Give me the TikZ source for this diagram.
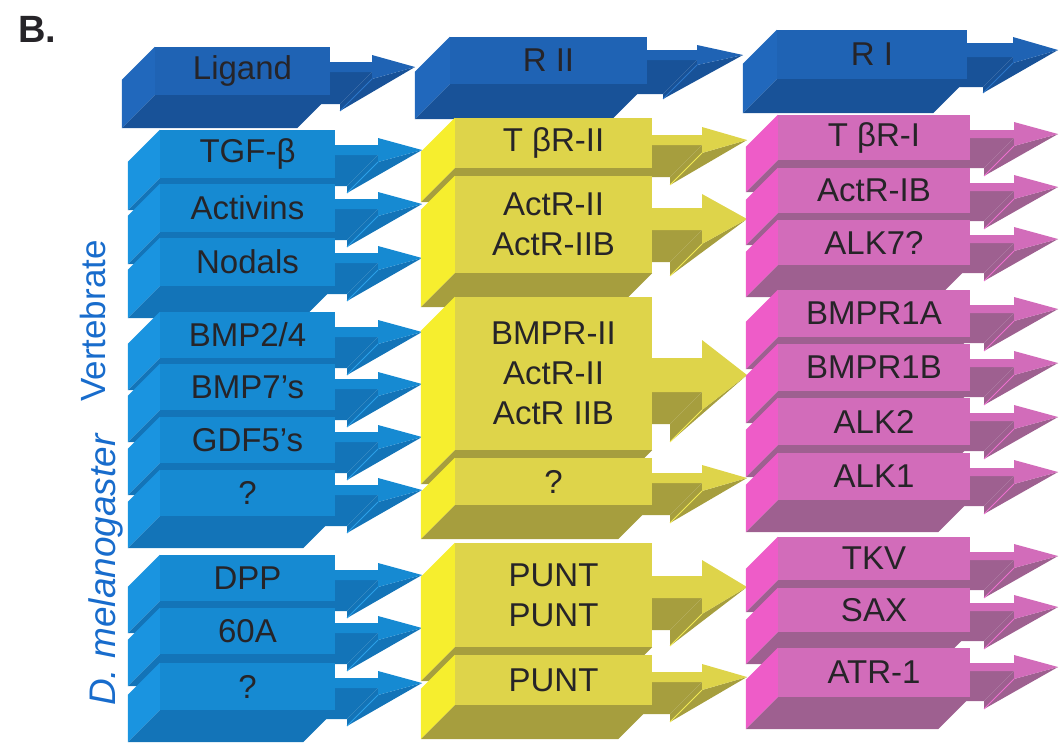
\documentclass[tikz,border=0pt]{standalone}
\usepackage{fontspec}
\setmainfont{Liberation Sans}
\usetikzlibrary{calc}

\definecolor{txt}{RGB}{38,36,40}
\definecolor{sidetxt}{RGB}{24,108,204}
\definecolor{hdrfront}{RGB}{31,99,180}
\definecolor{hdrside}{RGB}{33,104,188}
\definecolor{hdrdark}{RGB}{24,82,152}
\definecolor{hdrline}{RGB}{44,118,200}
\definecolor{blufront}{RGB}{22,138,210}
\definecolor{bluside}{RGB}{26,148,224}
\definecolor{bludark}{RGB}{19,116,184}
\definecolor{bluline}{RGB}{44,160,232}
\definecolor{yelfront}{RGB}{222,212,74}
\definecolor{yelside}{RGB}{246,238,46}
\definecolor{yeldark}{RGB}{166,158,62}
\definecolor{yelline}{RGB}{242,234,84}
\definecolor{pnkfront}{RGB}{210,108,186}
\definecolor{pnkside}{RGB}{238,92,200}
\definecolor{pnkdark}{RGB}{158,96,144}
\definecolor{pnkline}{RGB}{236,112,206}

% block: name, left x, right x, top y, bottom y, depth, colour set, text
\newcommand{\slab}[8]{%
  \node[frontface, fill=#7front, minimum width={(#3-#2)*1pt}, minimum height={(#5-#4)*1pt}]
    (#1) at ({(#2+#3)/2},{(#4+#5)/2}) {#8};
  \fill[#7side] (#1.north west) -- (#1.south west) -- ++(-#6,#6) -- ($(#1.north west)+(-#6,#6)$) -- cycle;
  \fill[#7dark] (#1.south west) -- (#1.south east) -- ++(-#6,#6) -- ($(#1.south west)+(-#6,#6)$) -- cycle;
}

% arrow: name, start x, shaft top, shaft, barb, shaft length, head length, depth, colour set
\newcommand{\slabarrow}[9]{%
  \coordinate (#1-a) at (#2,#3+#4);
  \coordinate (#1-b) at (#2+#6,#3+#4);
  \coordinate (#1-c) at (#2+#6,#3+#4+#5);
  \coordinate (#1-t) at (#2+#6+#7,#3+#4/2);
  \fill[#9dark] (#1-a) -- (#1-b) -- ++(-#8,#8) -- ($(#1-a)+(-#8,#8)$) -- cycle;
  \fill[#9dark] (#1-b) -- (#1-c) -- ++(-#8,#8) -- ($(#1-b)+(-#8,#8)$) -- cycle;
  \fill[#9dark] (#1-c) -- (#1-t) -- ($(#1-c)+(-#8,#8)$) -- cycle;
  \draw[#9line, thick] (#1-c) -- ++(-#8,#8);
  \fill[#9front] (#2,#3) -- (#2+#6,#3) -- (#2+#6,#3-#5) -- (#1-t) -- (#1-c) -- (#1-b) -- (#1-a) -- cycle;
}

\begin{document}
\begin{tikzpicture}[x=1pt, y=-1pt,
  frontface/.style={inner sep=0pt, align=center, text=txt, font=\fontsize{33}{40}\selectfont},
  grouplabel/.style={inner sep=0pt, text=sidetxt, rotate=90, anchor=base}
]
\useasboundingbox (0,0) rectangle (1060,742);

\node[anchor=base west, text=txt, font=\fontsize{38}{40}\selectfont\bfseries] (panel) at (15,42) {B.};

% arrows first, the blocks cover their tails
\slabarrow{ligA}{330}{62}{10}{7}{42}{43}{32}{hdr}
\slabarrow{riiA}{647}{50}{10}{5}{50}{46}{34}{hdr}
\slabarrow{riA}{967}{43}{14}{6}{46}{45}{30}{hdr}

\slabarrow{tgfA}{335}{145}{10}{7}{43}{44}{31}{blu}
\slabarrow{actA}{335}{199}{10}{7}{43}{44}{31}{blu}
\slabarrow{nodA}{335}{253}{10}{7}{43}{44}{31}{blu}
\slabarrow{bmpA}{335}{327}{10}{7}{43}{44}{31}{blu}
\slabarrow{bmpsA}{335}{379}{10}{7}{43}{44}{31}{blu}
\slabarrow{gdfA}{335}{432}{10}{7}{43}{44}{31}{blu}
\slabarrow{vqA}{335}{485}{10}{7}{43}{44}{31}{blu}
\slabarrow{dppA}{335}{570}{10}{7}{43}{44}{31}{blu}
\slabarrow{sixA}{335}{623}{10}{7}{43}{44}{31}{blu}
\slabarrow{dqA}{335}{678}{10}{7}{43}{44}{31}{blu}

\slabarrow{tbrtwoA}{652}{135}{10}{8}{50}{45}{32}{yel}
\slabarrow{actrA}{652}{208}{22}{14}{50}{45}{32}{yel}
\slabarrow{bmprA}{652}{358}{34}{18}{50}{45}{32}{yel}
\slabarrow{yqA}{652}{473}{10}{8}{50}{45}{32}{yel}
\slabarrow{punttwoA}{652}{576}{22}{16}{50}{45}{32}{yel}
\slabarrow{puntA}{652}{672}{10}{8}{50}{45}{32}{yel}

\slabarrow{tbroneA}{970}{130}{8}{8}{44}{44}{30}{pnk}
\slabarrow{actrbA}{970}{183}{8}{8}{44}{44}{30}{pnk}
\slabarrow{alksevA}{970}{235}{8}{8}{44}{44}{30}{pnk}
\slabarrow{bmpraA}{970}{305}{8}{8}{44}{44}{30}{pnk}
\slabarrow{bmprbA}{970}{359}{8}{8}{44}{44}{30}{pnk}
\slabarrow{alktwoA}{970}{413}{8}{8}{44}{44}{30}{pnk}
\slabarrow{alkoneA}{970}{468}{8}{8}{44}{44}{30}{pnk}
\slabarrow{tkvA}{970}{552}{8}{8}{44}{44}{30}{pnk}
\slabarrow{saxA}{970}{603}{8}{8}{44}{44}{30}{pnk}
\slabarrow{atrA}{970}{663}{8}{8}{44}{44}{30}{pnk}

% header row
\slab{ligand}{155}{330}{47}{95}{33}{hdr}{Ligand}
\slab{rii}{450}{647}{37}{84}{35}{hdr}{R II}
\slab{ri}{777}{967}{30}{79}{34}{hdr}{R I}

% ligands
\slab{tgf}{160}{335}{130}{178}{32}{blu}{TGF-β}
\slab{activins}{160}{335}{184}{232}{32}{blu}{Activins}
\slab{nodals}{160}{335}{238}{286}{32}{blu}{Nodals}
\slab{bmp}{160}{335}{312}{358}{32}{blu}{BMP2/4}
\slab{bmps}{160}{335}{364}{410}{32}{blu}{BMP7’s}
\slab{gdf}{160}{335}{417}{463}{32}{blu}{GDF5’s}
\slab{vq}{160}{335}{470}{516}{32}{blu}{?}
\slab{dpp}{160}{335}{555}{601}{32}{blu}{DPP}
\slab{sixty}{160}{335}{608}{654}{32}{blu}{60A}
\slab{dq}{160}{335}{663}{710}{32}{blu}{?}

% type II receptors
\slab{tbrtwo}{455}{652}{118}{168}{34}{yel}{T βR-II}
\slab{actr}{455}{652}{176}{273}{34}{yel}{ActR-II\\ActR-IIB}
\slab{bmpr}{455}{652}{297}{450}{34}{yel}{BMPR-II\\ActR-II\\ActR IIB}
\slab{yq}{455}{652}{458}{505}{34}{yel}{?}
\slab{punttwo}{455}{652}{543}{647}{34}{yel}{PUNT\\PUNT}
\slab{punt}{455}{652}{655}{705}{34}{yel}{PUNT}

% type I receptors
\slab{tbrone}{778}{970}{115}{160}{32}{pnk}{T βR-I}
\slab{actrb}{778}{970}{168}{213}{32}{pnk}{ActR-IB}
\slab{alkseven}{778}{970}{220}{265}{32}{pnk}{ALK7?}
\slab{bmpra}{778}{970}{290}{337}{32}{pnk}{BMPR1A}
\slab{bmprb}{778}{970}{344}{391}{32}{pnk}{BMPR1B}
\slab{alktwo}{778}{970}{398}{445}{32}{pnk}{ALK2}
\slab{alkone}{778}{970}{453}{500}{32}{pnk}{ALK1}
\slab{tkv}{778}{970}{537}{580}{32}{pnk}{TKV}
\slab{sax}{778}{970}{588}{632}{32}{pnk}{SAX}
\slab{atr}{778}{970}{648}{697}{32}{pnk}{ATR-1}

\node[grouplabel, font=\fontsize{35}{40}\selectfont] (vertebrate) at (105,321) {Vertebrate};
\node[grouplabel, font=\fontsize{37}{40}\selectfont\itshape] (dmel) at (115,570) {D. melanogaster};
\end{tikzpicture}
\end{document}
